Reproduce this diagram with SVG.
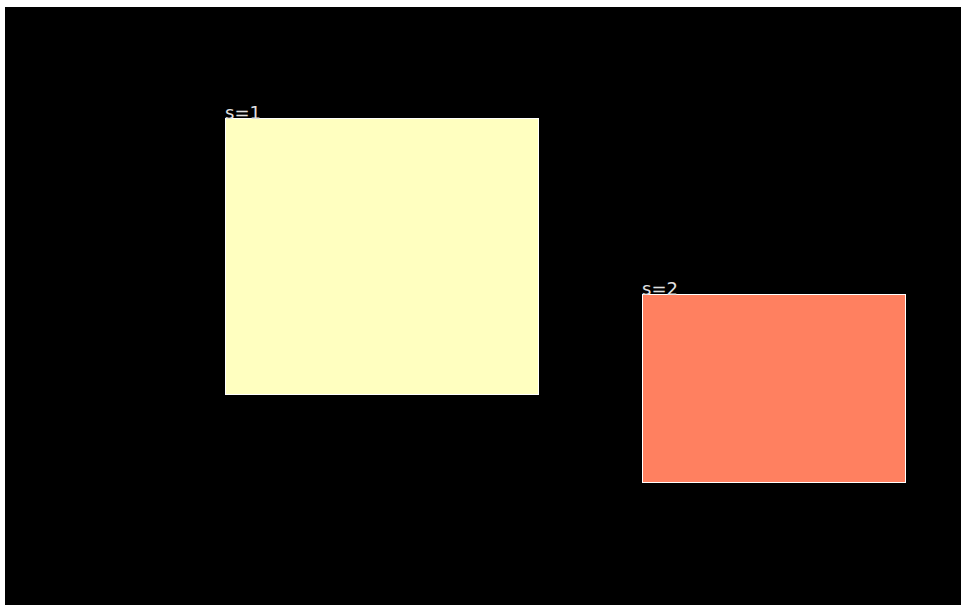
<svg xmlns="http://www.w3.org/2000/svg" width="961" height="605" viewBox="0 0 961 605">
<style>
.lbl{font-family:"DejaVu Sans","Liberation Sans",sans-serif;font-size:18px;fill:#e0e0e0}
.box{stroke:#ffffff;stroke-width:1}
</style>
<rect x="0" y="0" width="961" height="605" fill="#ffffff"/>
<rect x="5" y="7" width="956" height="598" fill="#000000"/>
<g id="node-s1">
<rect class="box" x="225.5" y="118.5" width="313" height="276" fill="#ffffc0"/>
<text class="lbl" x="225" y="119">s=1</text>
</g>
<g id="node-s2">
<rect class="box" x="642.5" y="294.5" width="263" height="188" fill="#ff8060"/>
<text class="lbl" x="642" y="295">s=2</text>
</g>
<g id="connectors"></g>
</svg>
